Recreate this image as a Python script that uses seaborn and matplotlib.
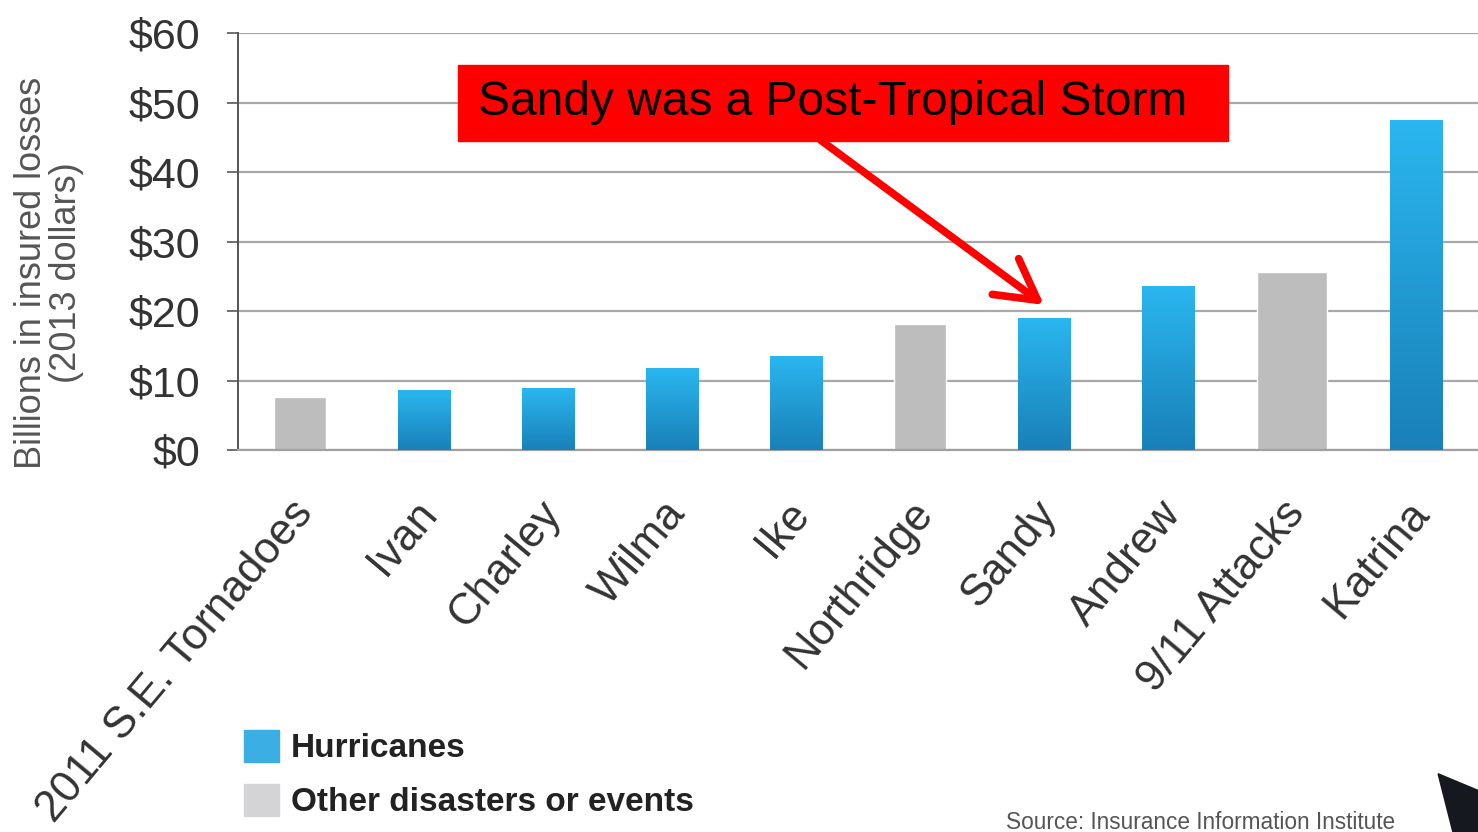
import numpy as np
import pandas as pd
import seaborn as sns
import matplotlib.pyplot as plt
import matplotlib.transforms as mtrans
from matplotlib.colors import LinearSegmentedColormap, to_rgb
from matplotlib.patches import Polygon, Patch, Rectangle

# insured losses, billions of 2013 dollars
events = ['2011 S.E. Tornadoes', 'Ivan', 'Charley', 'Wilma', 'Ike',
          'Northridge', 'Sandy', 'Andrew', '9/11 Attacks', 'Katrina']
losses = [7.6, 8.6, 8.9, 11.8, 13.5, 18.1, 19.0, 23.5, 25.6, 47.5]
kind = ['Other disasters or events', 'Hurricanes', 'Hurricanes', 'Hurricanes', 'Hurricanes',
        'Other disasters or events', 'Hurricanes', 'Hurricanes', 'Other disasters or events', 'Hurricanes']
yticks = [0, 10, 20, 30, 40, 50, 60]

df = pd.DataFrame({'event': events, 'loss': losses, 'kind': kind})

sns.set_style('white')
plt.rcParams['font.family'] = ['Liberation Sans', 'DejaVu Sans']

fig = plt.figure(figsize=(14.78, 8.32), dpi=100)
ax = fig.add_axes([0.161, 0.459, 0.839, 0.501])

pal = {'Hurricanes': '#1f9ed8', 'Other disasters or events': '#bdbdbd'}
sns.barplot(data=df, x='event', y='loss', hue='kind', palette=pal, dodge=False,
            width=0.42, ax=ax, legend=False, saturation=1)

# 9/11 bar is drawn a bit wider in the original
p911 = [p for p in ax.patches if abs(p.get_height() - losses[8]) < 1e-6][0]
cx = p911.get_x() + p911.get_width() / 2
p911.set_width(0.56)
p911.set_x(cx - 0.28)

# vertical gradient on the hurricane bars
cmap = LinearSegmentedColormap.from_list('blu', ['#1a80b8', '#2ab6ef'])
grad = np.linspace(0, 1, 256).reshape(-1, 1)
blue = to_rgb(pal['Hurricanes'])
for p in ax.patches:
    fc = p.get_facecolor()[:3]
    if p.get_height() > 0 and np.allclose(fc, blue, atol=0.02):
        x0, w, h = p.get_x(), p.get_width(), p.get_height()
        ax.imshow(grad, extent=[x0, x0 + w, 0, h], origin='lower', cmap=cmap,
                  aspect='auto', zorder=3)
        p.set_visible(False)

ax.set_xlim(-0.5, len(events) - 0.5)
ax.set_ylim(0, 60)
ax.set_yticks(yticks)
ax.set_yticklabels([f'${v}' for v in yticks], fontsize=31, color='#333333')
ax.yaxis.grid(True, color='#a8a8a8', linewidth=1.6)
ax.set_axisbelow(True)

ax.set_xticks(range(len(events)))
ax.set_xticklabels(events, rotation=50, ha='right', rotation_mode='anchor',
                   fontsize=31.5, color='#333333')
ax.tick_params(axis='x', which='major', length=0, pad=31)
shift = mtrans.ScaledTranslation(-10 / 100, 0, fig.dpi_scale_trans)
for lab in ax.get_xticklabels():
    lab.set_transform(lab.get_transform() + shift)
ax.set_xticks(np.arange(-0.5, len(events), 1), minor=True)
ax.tick_params(axis='x', which='minor', length=9, width=1.3, color='#888888', direction='out')
ax.tick_params(axis='y', length=8, width=1.3, color='#666666', direction='out', left=True, pad=19)

for s in ['top', 'right']:
    ax.spines[s].set_visible(False)
ax.spines['left'].set_color('#555555')
ax.spines['left'].set_linewidth(1.4)
ax.spines['bottom'].set_color('#a0a0a0')
ax.spines['bottom'].set_linewidth(1.6)

ax.set_xlabel('')
ax.set_ylabel('')
fig.text(0.033, 0.672, 'Billions in insured losses\n(2013 dollars)', rotation=90,
         ha='center', va='center', fontsize=26, color='#555555', linespacing=1.0)

# callout
ax.annotate('', xy=(6.0, 20.9), xytext=(4.2, 44.6),
            arrowprops=dict(arrowstyle='->,head_length=0.9,head_width=0.5', color='#ff0000',
                            lw=5.5, mutation_scale=32, shrinkA=0, shrinkB=0,
                            capstyle='round', joinstyle='round'))
fig.patches.append(Rectangle((0.310, 0.8305), 0.521, 0.0913, transform=fig.transFigure,
                             color='#ff0000', zorder=5))
fig.text(0.3234, 0.877, 'Sandy was a Post-Tropical Storm', ha='left', va='center',
         fontsize=34.5, color='black', zorder=6)

# legend
handles = [Patch(color='#3bafe4'), Patch(color='#d4d4d6')]
fig.legend(handles, ['Hurricanes', 'Other disasters or events'], loc='upper left',
           bbox_to_anchor=(0.1535, 0.143), frameon=False, borderpad=0,
           handlelength=1.05, handleheight=1.1, handletextpad=0.37, labelspacing=0.6,
           prop={'family': ['Liberation Sans', 'DejaVu Sans'], 'size': 24, 'weight': 'bold'},
           labelcolor='#222222')

fig.text(0.944, 0.012, 'Source: Insurance Information Institute', ha='right', va='center',
         fontsize=16.3, color='#555555')

# dark cursor shape at bottom right corner
fig.patches.append(Polygon([[0.973, 0.07], [1.0, 0.05], [1.0, 0.0], [0.983, 0.0]],
                           closed=True, transform=fig.transFigure, color='#15191f'))

fig.savefig('out.png', dpi=100)
